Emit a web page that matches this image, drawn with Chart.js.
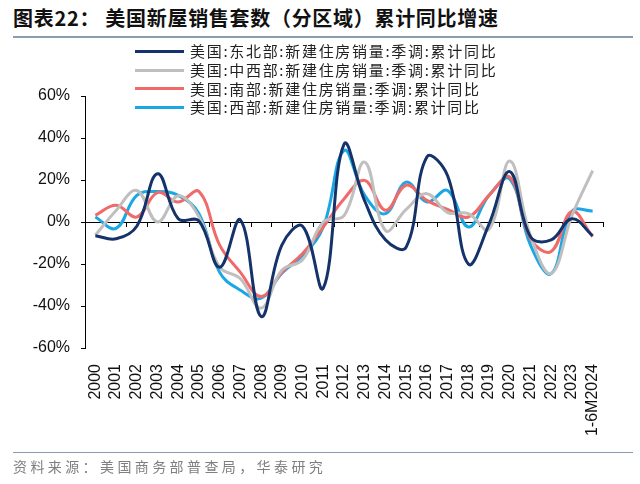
<!DOCTYPE html>
<html>
<head>
<meta charset="utf-8">
<script src="https://cdn.jsdelivr.net/npm/chart.js@4.4.1/dist/chart.umd.min.js"></script>
<style>
  html, body { margin: 0; padding: 0; background: #fff; }
  #wrap { position: relative; width: 640px; height: 484px; overflow: hidden; background: #fff; }
  #c { position: absolute; left: 0; top: 0; }
  #title { position: absolute; left: 13px; top: 6px; font-family: "Noto Sans CJK SC", sans-serif; font-weight: bold; font-size: 20px; letter-spacing: 0.7px; color: #111; white-space: nowrap; line-height: 24px; }
  #tline { position: absolute; left: 13px; top: 36px; width: 620px; height: 2px; background: #8a9db0; }
  #sline { position: absolute; left: 13px; top: 452px; width: 620px; height: 1px; background: #8a9db0; }
  #source { position: absolute; left: 13px; top: 456px; font-family: "Noto Sans CJK SC", sans-serif; font-size: 14px; letter-spacing: 3.4px; color: #7f7f7f; white-space: nowrap; line-height: 20px; }
  #legend { position: absolute; left: 135px; top: 42px; font-family: "Noto Sans CJK SC", sans-serif; font-size: 15px; color: #222; }
  .row { display: flex; align-items: center; height: 18.7px; white-space: nowrap; }
  .sw { display: inline-block; width: 49px; height: 3px; margin-right: 6px; }
  .lt { letter-spacing: 1.7px; line-height: 18px; }
</style>
</head>
<body>
<div id="wrap">
  <div id="title">图表22： 美国新屋销售套数（分区域）累计同比增速</div>
  <div id="tline"></div>
  <canvas id="c" width="640" height="484"></canvas>
  <div id="legend"></div>
  <div id="sline"></div>
  <div id="source">资料来源：美国商务部普查局，华泰研究</div>
</div>
<script>
const categories = ['2000','2001','2002','2003','2004','2005','2006','2007','2008','2009','2010','2011','2012','2013','2014','2015','2016','2017','2018','2019','2020','2021','2022','2023','1-6M2024'];
const seriesNames = ['美国:东北部:新建住房销量:季调:累计同比','美国:中西部:新建住房销量:季调:累计同比','美国:南部:新建住房销量:季调:累计同比','美国:西部:新建住房销量:季调:累计同比'];
const northeast = [-6.5,-8,-2,23,1.5,0.5,-21.5,1,-45,-11,-2,-31.5,37,10,-8.5,-12,31,22,-20,-1,24,-7,-8.5,1.5,-6.5];
const midwest = [-6.3,5.5,15,0,12.5,2.5,-21.5,-27,-41,-23,-18,0,3,28.5,-4,6,13.5,4.5,4,-3.5,29,-6.5,-24.5,3,24.5];
const south = [3.2,8,2.4,14,9.5,14.5,-11,-24,-35.5,-24,-15,-2.4,11,19.8,5.6,17.5,10.3,6,2.4,12.7,21.4,-8,-14,5,-7];
const west = [2.4,-3,12.7,14.5,12.7,4,-24,-32.5,-36.3,-24.4,-16,-2.4,34,12.7,4,19,9.5,15,-2.4,12.7,20.5,-11,-24.6,5,5.3];
const yTicks = [-60,-40,-20,0,20,40,60];
const colors = ['#15336b','#bfbfbf','#f06a6a','#1aa7e3'];

const seriesData = [northeast, midwest, south, west];

const legendEl = document.getElementById('legend');
seriesNames.forEach((n, i) => {
  const r = document.createElement('div'); r.className = 'row';
  const s = document.createElement('span'); s.className = 'sw'; s.style.background = colors[i];
  const t = document.createElement('span'); t.className = 'lt'; t.textContent = n;
  r.appendChild(s); r.appendChild(t); legendEl.appendChild(r);
});

const xTickMarks = {
  id: 'xTickMarks',
  beforeDatasetsDraw(chart) {
    const x = chart.scales.x, y = chart.scales.y;
    const y0 = y.getPixelForValue(0);
    const n = categories.length;
    const ctx = chart.ctx;
    ctx.save();
    ctx.strokeStyle = '#000';
    ctx.lineWidth = 1;
    ctx.beginPath();
    for (let i = 1; i <= n; i++) {
      const px = Math.round(x.left + (x.right - x.left) * i / n) + 0.5;
      ctx.moveTo(px, y0);
      ctx.lineTo(px, y0 + 5);
    }
    ctx.stroke();
    ctx.restore();
  }
};

new Chart(document.getElementById('c'), {
  type: 'line',
  data: {
    labels: categories,
    datasets: seriesData.map((d, i) => ({
      label: seriesNames[i],
      data: d,
      borderColor: colors[i],
      backgroundColor: colors[i],
      borderWidth: 3,
      pointRadius: 0,
      tension: 0.4,
      fill: false
    }))
  },
  options: {
    responsive: false,
    animation: false,
    devicePixelRatio: 1,
    layout: { padding: { left: 0, right: 37, top: 96, bottom: 46 } },
    plugins: { legend: { display: false }, tooltip: { enabled: false } },
    scales: {
      x: {
        offset: true,
        grid: { display: false },
        border: { display: false },
        ticks: {
          autoSkip: false, maxRotation: 90, minRotation: 90, padding: 8,
          color: '#111', font: { family: '"Liberation Sans", Arial, sans-serif', size: 16 }
        },
        afterFit(scale) { scale.height = 90; }
      },
      y: {
        min: -60, max: 60,
        afterBuildTicks(scale) { scale.ticks = yTicks.map(v => ({ value: v })); },
        grid: {
          color: (c) => (c.tick && c.tick.value === 0) ? '#000' : 'rgba(0,0,0,0)',
          tickColor: '#000', tickLength: 4, lineWidth: 1
        },
        border: { display: true, color: '#000', width: 1 },
        ticks: {
          padding: 11, color: '#111',
          font: { family: '"Liberation Sans", Arial, sans-serif', size: 16 },
          callback: (v) => v + '%'
        },
        afterFit(scale) { scale.width = 85; }
      }
    }
  },
  plugins: [xTickMarks]
});
</script>
</body>
</html>
